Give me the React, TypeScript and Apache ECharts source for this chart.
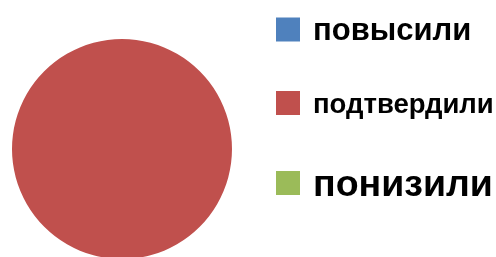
import React, { useEffect, useRef } from "react";
import * as echarts from "echarts";

const categories = ["повысили", "подтвердили", "понизили"];
const values = [0, 100, 0];
const colors = ["#4F81BD", "#C0504D", "#9BBB59"];
const legendFontSizes = [31, 27.5, 37.5];
const legendTops = [9, 84, 159];

export default function App() {
  const ref = useRef<HTMLDivElement>(null);
  useEffect(() => {
    if (!ref.current) return;
    const chart = echarts.init(ref.current, undefined, { renderer: "svg" });
    const legends = categories.map((name, i) => ({
      data: [name],
      orient: "vertical",
      left: 271,
      top: legendTops[i],
      icon: "rect",
      itemWidth: 24,
      itemHeight: 24,
      selectedMode: false,
      textStyle: {
        fontFamily: "Liberation Sans",
        fontWeight: "bold",
        fontSize: legendFontSizes[i],
        lineHeight: 24,
        color: "#000",
        padding: [0, 0, 0, 8],
      },
    }));
    chart.setOption({
      animation: false,
      color: colors,
      legend: legends,
      series: [
        {
          type: "pie",
          center: [122, 149],
          radius: 110,
          label: { show: false },
          labelLine: { show: false },
          emphasis: { disabled: true },
          itemStyle: { borderWidth: 0 },
          data: categories.map((name, i) => ({ name, value: values[i] })),
        },
      ],
    });
    return () => chart.dispose();
  }, []);
  return (
    <div
      ref={ref}
      style={{ position: "fixed", left: 0, top: 0, width: 496, height: 257 }}
    />
  );
}
